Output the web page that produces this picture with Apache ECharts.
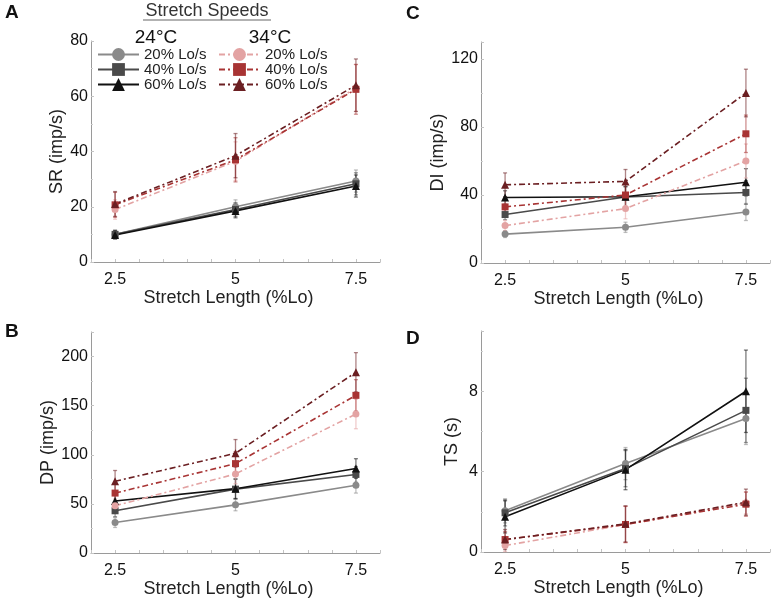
<!DOCTYPE html>
<html>
<head>
<meta charset="utf-8">
<script src="https://cdn.jsdelivr.net/npm/echarts@6/dist/echarts.min.js"></script>
<style>html,body{margin:0;padding:0;background:#fff}#c{width:778px;height:601px}</style>
</head>
<body>
<div id="c"></div>
<script>
// ---- data ----
const xValues = [2.5, 5, 7.5];
const seriesNames = ['24°C 20% Lo/s', '24°C 40% Lo/s', '24°C 60% Lo/s', '34°C 20% Lo/s', '34°C 40% Lo/s', '34°C 60% Lo/s'];
const xTickLabels = [2.5, 5, 7.5];

// rows follow seriesNames order
const SR_mean = [
  [10, 20, 29.3],
  [10, 19, 28.3],
  [9.8, 18.5, 27.5],
  [19, 36.5, 63],
  [20.7, 37, 62.5],
  [21, 38.5, 64]
];
const SR_err = [
  [1.5, 2.5, 4],
  [1.5, 2.5, 4],
  [1.5, 2.5, 4],
  [3.5, 7, 8.5],
  [4.5, 8, 9],
  [4.5, 8, 9.5]
];
const DP_mean = [
  [31, 49, 69],
  [43, 65, 80],
  [53, 65.5, 86],
  [48, 80.5, 141.5],
  [61, 91, 160.5],
  [73, 101.5, 184]
];
const DP_err = [
  [5, 6, 8],
  [6, 10, 8],
  [6, 10, 10],
  [7, 10, 15],
  [9, 12, 16],
  [11, 14, 20]
];
const DI_mean = [
  [17, 21, 30],
  [28.5, 38.8, 41.5],
  [38.5, 39, 47.5],
  [22, 32, 60],
  [33, 40, 76],
  [46, 48, 100]
];
const DI_err = [
  [2, 3, 5],
  [3, 6, 7],
  [4, 6, 8],
  [3, 6, 10],
  [5, 7, 11],
  [7, 7, 14]
];
const TS_mean = [
  [2.05, 4.4, 6.65],
  [1.95, 4.15, 7.05],
  [1.75, 4.1, 8.0],
  [0.32, 1.37, 2.45],
  [0.62, 1.37, 2.38],
  [0.62, 1.4, 2.48]
];
const TS_err = [
  [0.6, 0.8, 1.3],
  [0.65, 0.9, 1.6],
  [0.8, 1.0, 2.05],
  [0.3, 0.9, 0.55],
  [0.4, 0.9, 0.6],
  [0.5, 0.9, 0.65]
];

// ---- styling ----
const FONT = '"Liberation Sans", Arial, sans-serif';
const colors = ['#8a8a8a', '#4a4a4a', '#111111', '#e3a3a3', '#a83434', '#6b1f22'];
const symbols = ['circle', 'rect', 'triangle', 'circle', 'rect', 'triangle'];
const dashDot = [6, 3, 2, 3];

const panels = [
  { name: 'SR (imp/s)', mean: SR_mean, err: SR_err, max: 80, interval: 20, grid: { left: 91, top: 41, width: 289, height: 221 } },
  { name: 'DP (imp/s)', mean: DP_mean, err: DP_err, max: 225, interval: 50, grid: { left: 91, top: 332, width: 289, height: 221 } },
  { name: 'DI (imp/s)', mean: DI_mean, err: DI_err, max: 130, interval: 40, grid: { left: 481, top: 42, width: 289, height: 221 } },
  { name: 'TS (s)', mean: TS_mean, err: TS_err, max: 11, interval: 4, grid: { left: 481, top: 331, width: 289, height: 221 } }
];

const grids = [], xAxes = [], yAxes = [], series = [];
panels.forEach((p, gi) => {
  grids.push(Object.assign({ containLabel: false }, p.grid));
  xAxes.push({
    type: 'value', gridIndex: gi, min: 2, max: 8, interval: 0.5,
    name: 'Stretch Length (%Lo)', nameLocation: 'middle', nameGap: 26,
    nameTextStyle: { fontSize: 18, color: '#222', fontFamily: FONT, padding: [0, 14, 0, 0] },
    axisLine: { show: true, lineStyle: { color: '#9a9a9a', width: 1 } },
    axisTick: { show: true, inside: true, length: 3, lineStyle: { color: '#c4c4c4' } },
    splitLine: { show: false },
    axisLabel: {
      fontSize: 16, color: '#111', fontFamily: FONT, margin: 10,
      formatter: v => (xTickLabels.indexOf(v) >= 0 ? String(v) : '')
    }
  });
  yAxes.push({
    type: 'value', gridIndex: gi, min: 0, max: p.max, interval: p.interval,
    name: p.name, nameLocation: 'middle', nameGap: 20,
    nameTextStyle: { fontSize: 18, color: '#222', fontFamily: FONT },
    axisLine: { show: true, lineStyle: { color: '#9a9a9a', width: 1 } },
    axisTick: { show: true, inside: true, length: 3, lineStyle: { color: '#c4c4c4' } },
    minorTick: { show: true, splitNumber: 2, length: 2, lineStyle: { color: '#d0d0d0' } },
    splitLine: { show: false },
    axisLabel: { fontSize: 16, color: '#111', fontFamily: FONT, margin: 3, showMaxLabel: p.max % p.interval === 0 }
  });
  // error bars
  p.mean.forEach((row, si) => {
    const col = colors[si];
    series.push({
      type: 'custom', xAxisIndex: gi, yAxisIndex: gi, z: 1, silent: true,
      data: row.map((m, k) => [xValues[k], m - p.err[si][k], m + p.err[si][k]]),
      encode: { x: 0, y: [1, 2] },
      renderItem: (params, api) => {
        const x = api.value(0);
        const a = api.coord([x, api.value(2)]);
        const b = api.coord([x, api.value(1)]);
        const w = 2;
        const st = { stroke: col, lineWidth: 1.3, opacity: 0.55 };
        return {
          type: 'group', children: [
            { type: 'line', shape: { x1: a[0], y1: a[1], x2: b[0], y2: b[1] }, style: st },
            { type: 'line', shape: { x1: a[0] - w, y1: a[1], x2: a[0] + w, y2: a[1] }, style: st },
            { type: 'line', shape: { x1: b[0] - w, y1: b[1], x2: b[0] + w, y2: b[1] }, style: st }
          ]
        };
      }
    });
  });
  // lines
  p.mean.forEach((row, si) => {
    series.push({
      type: 'line', name: seriesNames[si], xAxisIndex: gi, yAxisIndex: gi, z: 3,
      data: row.map((m, k) => [xValues[k], m]),
      symbol: symbols[si], symbolSize: symbols[si] === 'triangle' ? 8 : 7,
      showSymbol: true, animation: false,
      itemStyle: { color: colors[si] },
      lineStyle: { color: colors[si], width: 1.6, type: si < 3 ? 'solid' : dashDot }
    });
  });
});

const legendBase = {
  orient: 'vertical', itemWidth: 41, itemHeight: 16, itemGap: 0, padding: 0,
  textStyle: { fontSize: 15, color: '#222', fontFamily: FONT, lineHeight: 15 },
  lineStyle: { width: 2 },
  formatter: n => n.slice(5),
  selectedMode: false
};

const option = {
  animation: false,
  backgroundColor: '#fff',
  grid: grids, xAxis: xAxes, yAxis: yAxes, series: series,
  legend: [
    Object.assign({}, legendBase, { left: 97, top: 47, data: seriesNames.slice(0, 3) }),
    Object.assign({}, legendBase, { left: 218, top: 47, data: seriesNames.slice(3) })
  ],
  graphic: [
    { type: 'text', left: 5, top: 3, style: { text: 'A', font: 'bold 19px ' + FONT, fill: '#111' } },
    { type: 'text', left: 5, top: 322, style: { text: 'B', font: 'bold 19px ' + FONT, fill: '#111' } },
    { type: 'text', left: 406, top: 4, style: { text: 'C', font: 'bold 19px ' + FONT, fill: '#111' } },
    { type: 'text', left: 406, top: 329, style: { text: 'D', font: 'bold 19px ' + FONT, fill: '#111' } },
    { type: 'text', x: 207, y: 2, style: { text: 'Stretch Speeds', font: '18px ' + FONT, fill: '#333', align: 'center', verticalAlign: 'top' } },
    { type: 'line', shape: { x1: 143, y1: 20, x2: 271, y2: 20 }, style: { stroke: '#666', lineWidth: 1.2 } },
    { type: 'text', x: 156, y: 28, style: { text: '24°C', font: '19px ' + FONT, fill: '#111', align: 'center', verticalAlign: 'top' } },
    { type: 'text', x: 270, y: 28, style: { text: '34°C', font: '19px ' + FONT, fill: '#111', align: 'center', verticalAlign: 'top' } }
  ]
};

const chart = echarts.init(document.getElementById('c'), null, { renderer: 'canvas' });
chart.setOption(option);
</script>
</body>
</html>
